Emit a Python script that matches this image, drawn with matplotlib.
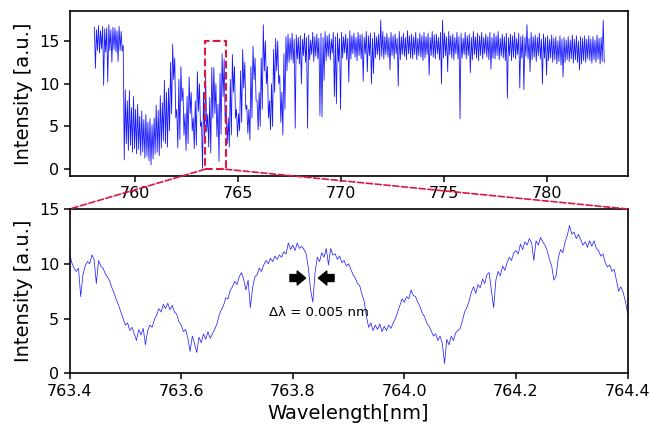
import numpy as np
import matplotlib
matplotlib.use("Agg")
import matplotlib.pyplot as plt
from matplotlib.patches import Rectangle, ConnectionPatch

# ---------------- data: overview spectrum (column max / min, 0.1 nm columns) --------
top_start = 758.05
top_step = 0.1
top_hi = [
    16.6, 16.3, 16.8, 16.2, 16.7, 16.4, 16.5, 16.9, 16.3, 16.6,   # 758
    16.5, 16.2, 16.7, 16.1, 14.5, 9.3, 8.0, 9.2, 7.2, 8.5,         # 759
    7.0, 7.6, 6.2, 6.8, 5.8, 6.4, 5.5, 5.9, 5.2, 6.0,              # 760
    7.5, 6.9, 8.6, 7.8, 10.4, 9.0, 9.5, 12.5, 14.6, 13.0,          # 761
    7.0, 10.5, 12.0, 9.5, 6.5, 8.5, 10.8, 9.0, 6.0, 8.0,           # 762
    11.4, 10.0, 5.5, 9.0, 11.0, 6.4, 8.4, 11.9, 11.9, 10.0,        # 763
    7.6, 11.2, 13.5, 12.9, 7.0, 6.0, 10.5, 13.4, 12.0, 7.0,        # 764
    6.5, 11.5, 14.0, 12.5, 7.5, 7.0, 12.0, 14.4, 13.0, 8.0,        # 765
    9.0, 13.0, 16.9, 15.0, 12.0, 8.0, 10.0, 14.0, 15.3, 15.0,      # 766
    11.0, 9.0, 13.5, 15.5, 15.8, 15.3, 15.9, 15.2, 15.7, 15.4,     # 767
    15.6, 15.2, 15.9, 15.4, 15.7, 15.1, 16.0, 15.5, 15.8, 15.3,    # 768
    15.9, 15.4, 16.1, 15.6, 15.8, 15.2, 16.0, 15.5, 15.9, 15.3,    # 769
    16.0, 15.5, 15.8, 15.3, 16.2, 15.6, 15.9, 15.4, 16.0, 15.7,    # 770
    15.8, 15.4, 16.1, 15.6, 15.9, 15.3, 16.0, 15.5, 15.8, 15.4,    # 771
    16.1, 15.5, 15.9, 15.4, 16.0, 15.6, 15.8, 15.3, 16.1, 15.5,    # 772
    15.9, 15.4, 16.2, 15.6, 15.8, 15.5, 16.0, 15.3, 15.9, 15.6,    # 773
    16.0, 15.5, 15.9, 15.4, 16.1, 15.7, 15.8, 15.4, 16.0, 15.6,    # 774
    15.9, 15.5, 16.1, 15.6, 15.8, 15.4, 16.0, 15.5, 15.9, 15.3,    # 775
    16.0, 15.6, 15.8, 15.4, 16.1, 15.5, 15.9, 15.6, 16.0, 15.4,    # 776
    15.8, 15.5, 16.0, 15.4, 15.9, 15.6, 16.1, 15.3, 15.8, 15.5,    # 777
    15.9, 15.4, 15.8, 15.6, 16.0, 15.3, 15.9, 15.5, 15.7, 15.4,    # 778
    15.8, 15.3, 16.0, 15.5, 15.7, 15.4, 15.9, 15.2, 15.8, 15.4,    # 779
    15.6, 15.2, 15.7, 15.3, 15.5, 15.0, 15.6, 15.2, 15.4, 15.1,    # 780
    15.5, 15.1, 15.7, 15.2, 15.6, 15.0, 15.5, 15.3, 15.6, 15.2,    # 781
    15.6, 15.2, 15.5, 15.1, 15.7, 15.3, 15.4, 15.6,                # 782
]
top_lo = [
    11.8, 13.9, 13.6, 14.1, 9.8, 13.7, 10.2, 13.9, 12.5, 14.0,     # 758
    13.7, 12.6, 13.9, 13.8, 1.1, 3.0, 2.2, 2.8, 2.0, 2.4,          # 759
    1.8, 2.3, 1.6, 2.0, 1.3, 1.5, 1.0, 0.5, 1.2, 1.8,              # 760
    2.0, 1.6, 2.5, 3.3, 3.0, 2.6, 4.5, 6.5, 10.5, 6.0,             # 761
    2.5, 3.5, 8.0, 4.0, 2.2, 3.0, 6.5, 4.5, 2.4, 2.8,              # 762
    6.8, 5.0, 0.1, 3.2, 4.4, 2.6, 1.9, 6.0, 6.5, 3.8,              # 763
    0.9, 4.1, 8.5, 5.5, 3.0, 2.6, 4.0, 9.0, 6.0, 3.8,              # 764
    4.5, 5.5, 9.5, 7.0, 4.2, 3.4, 6.0, 10.5, 8.0, 4.6,             # 765
    5.0, 7.0, 11.5, 10.0, 6.0, 4.6, 5.0, 9.0, 11.5, 10.0,          # 766
    5.5, 4.0, 7.0, 11.5, 12.5, 12.8, 12.4, 4.8, 12.9, 12.3,        # 767
    12.7, 13.3, 12.5, 13.1, 12.8, 13.4, 12.6, 13.2, 12.9, 13.5,    # 768
    12.9, 13.5, 12.7, 13.2, 12.8, 13.6, 12.9, 13.3, 12.6, 13.4,    # 769
    13.0, 13.6, 12.8, 13.4, 12.9, 13.5, 13.1, 12.7, 13.3, 12.9,    # 770
    13.1, 13.5, 12.8, 13.3, 12.9, 13.6, 13.0, 13.4, 12.8, 13.2,    # 771
    12.9, 13.4, 13.1, 12.7, 13.3, 12.9, 13.5, 13.0, 12.8, 13.4,    # 772
    13.2, 12.8, 13.5, 13.0, 12.9, 13.4, 12.8, 13.3, 13.1, 12.7,    # 773
    13.0, 13.4, 12.8, 13.3, 13.1, 12.9, 13.5, 12.8, 13.2, 13.0,    # 774
    13.3, 12.9, 13.4, 13.0, 12.8, 13.5, 12.9, 13.2, 13.0, 13.4,    # 775
    12.9, 13.3, 13.1, 12.8, 13.4, 13.0, 12.7, 13.3, 12.9, 13.5,    # 776
    13.1, 12.8, 13.4, 13.0, 12.9, 13.3, 12.8, 13.2, 13.0, 12.7,    # 777
    13.0, 13.3, 12.7, 13.1, 12.9, 13.4, 12.8, 13.0, 12.6, 13.2,    # 778
    12.9, 13.2, 12.8, 13.1, 12.6, 13.3, 12.9, 12.7, 13.0, 12.8,    # 779
    12.7, 13.0, 12.5, 12.8, 12.3, 12.6, 12.2, 12.9, 12.5, 12.8,    # 780
    12.6, 12.9, 12.4, 12.8, 12.5, 13.0, 12.3, 12.7, 12.5, 12.9,    # 781
    12.7, 12.4, 12.8, 12.5, 12.9, 12.3, 12.6, 12.5,                # 782
]
# narrow absorption lines in the continuum (wavelength, minimum intensity)
line_wl = [768.05, 768.38, 768.98, 769.06, 769.17, 769.63, 769.74, 769.95,
           770.34, 771.08, 771.21, 771.46, 771.57, 772.34, 772.78, 774.30,
           774.84, 775.13, 775.74, 776.23, 777.21, 778.07, 778.69, 778.88,
           779.10, 779.76, 779.98, 780.79, 781.52]
line_min = [10.0, 4.8, 6.3, 6.1, 10.4, 8.5, 7.7, 7.0,
            10.2, 10.3, 11.4, 10.0, 11.2, 11.6, 9.7, 11.0,
            10.0, 11.4, 5.9, 11.3, 11.7, 8.3, 9.5, 9.3,
            11.4, 10.0, 11.0, 10.8, 11.6]
# isolated upward spikes (wavelength, maximum intensity)
spike_wl = [771.93, 774.97, 779.01, 782.72]
spike_max = [17.4, 17.4, 16.9, 17.4]

# ---------------- data: zoomed spectrum 763.4 - 764.4 nm --------------------------
zoom_start = 763.4
zoom_end = 764.4
zoom_I = [
    11.0, 10.1, 9.6, 9.3, 9.6, 7.0, 9.0, 9.8, 10.2, 10.0,
    10.8, 10.4, 8.2, 10.3, 9.8, 9.6, 9.1, 8.8, 8.4, 7.8,
    7.3, 6.7, 6.2, 5.6, 5.0, 4.4, 4.6, 3.9, 4.2, 3.6,
    3.0, 4.0, 3.5, 4.1, 2.6, 3.9, 4.4, 4.2, 4.9, 5.3,
    5.9, 5.6, 6.3, 5.9, 6.4, 5.8, 6.2, 5.6, 5.4, 4.7,
    4.4, 3.8, 4.0, 3.2, 2.0, 3.4, 2.7, 1.9, 3.3, 2.8,
    3.6, 3.1, 3.8, 3.2, 3.6, 4.0, 4.5, 5.3, 5.8, 6.2,
    6.9, 6.8, 7.6, 7.9, 8.4, 8.1, 8.8, 9.2, 8.6, 7.6,
    8.5, 6.0, 7.8, 8.8, 9.0, 9.6, 9.3, 9.9, 10.3, 10.0,
    10.5, 10.2, 10.7, 10.4, 10.8, 10.6, 11.1, 10.9, 11.9, 11.3,
    11.7, 11.2, 11.9, 11.4, 11.6, 11.3, 10.9, 9.6, 7.6, 6.5,
    9.2, 10.6, 10.2, 11.0, 10.6, 11.4, 9.9, 11.4, 10.8, 10.9,
    10.4, 10.7, 10.1, 10.3, 9.8, 10.0, 9.5, 9.0, 8.7, 8.2,
    8.0, 7.2, 6.6, 5.2, 4.2, 4.6, 3.9, 4.4, 4.0, 4.5,
    3.8, 4.3, 3.9, 4.4, 4.1, 4.6, 5.0, 5.6, 6.2, 6.8,
    6.5, 7.0, 6.8, 7.6, 7.1, 7.0, 6.5, 6.1, 5.5, 5.2,
    4.6, 4.3, 3.9, 3.4, 3.6, 3.0, 3.4, 2.7, 0.9, 3.1,
    2.6, 3.4, 3.0, 3.7, 3.9, 4.1, 4.8, 5.6, 6.0, 6.6,
    7.4, 7.9, 7.3, 8.1, 7.8, 8.6, 8.2, 9.0, 9.2, 7.5,
    6.0, 8.5, 9.3, 8.9, 9.8, 9.4, 10.1, 10.6, 10.3, 11.0,
    11.2, 10.9, 11.8, 11.3, 12.0, 11.7, 12.3, 11.9, 10.3, 12.1,
    11.7, 12.4, 12.0, 11.7, 11.2, 10.4, 9.8, 8.5, 8.9, 10.6,
    11.3, 11.0, 12.0, 12.6, 13.5, 12.7, 12.9, 12.3, 12.7, 12.2,
    11.7, 12.0, 11.5, 12.1, 11.6, 12.1, 11.4, 11.2, 10.7, 10.9,
    10.1, 9.7, 9.9, 9.3, 9.5, 8.5, 7.5, 7.9, 7.4, 6.6,
    5.5,
]

top_xticks = [760, 765, 770, 775, 780]
zoom_xticks = [763.4, 763.6, 763.8, 764.0, 764.2, 764.4]
yticks = [0, 5, 10, 15]
annotation = "\u0394\u03bb = 0.005 nm"

# ---------------- build the overview line ----------------------------------------
hi = list(top_hi)
lo = list(top_lo)
for w, v in zip(line_wl, line_min):
    j = int(round((w - top_start) / top_step))
    lo[j] = min(lo[j], v)
for w, v in zip(spike_wl, spike_max):
    j = int(round((w - top_start) / top_step))
    hi[j] = max(hi[j], v)
tx, ty = [], []
for j, (h, l) in enumerate(zip(hi, lo)):
    c = top_start + top_step * j
    tx += [c - top_step / 4, c + top_step / 4]
    ty += [h, l]

zx = np.linspace(zoom_start, zoom_end, len(zoom_I))

# ---------------- figure ----------------------------------------------------------
plt.rcParams['font.family'] = ['DejaVu Sans']
fig = plt.figure(figsize=(6.5, 4.26), dpi=100)
ax1 = fig.add_axes([0.107, 0.5876, 0.8592, 0.3866])
ax2 = fig.add_axes([0.107, 0.1237, 0.8585, 0.3857])

red = '#e0163f'

ax1.plot(tx, ty, color='#0000ff', lw=0.6, alpha=0.9)
ax1.set_xlim(756.82, 783.93)
ax1.set_ylim(-0.75, 18.5)
ax1.set_xticks(top_xticks)
ax1.set_yticks(yticks)
ax1.set_ylabel('Intensity [a.u.]', fontsize=14)
ax1.add_patch(Rectangle((zoom_start, 0), zoom_end - zoom_start, 15, fill=False,
                        edgecolor=red, lw=1.5, ls='--', zorder=5))

ax2.plot(zx, zoom_I, color='#0000ff', lw=0.55, alpha=0.85)
ax2.set_xlim(zoom_start, zoom_end)
ax2.set_ylim(0, 15)
ax2.set_xticks(zoom_xticks)
ax2.set_xticklabels([f"{t:.1f}" for t in zoom_xticks])
ax2.set_yticks(yticks)
ax2.set_ylabel('Intensity [a.u.]', fontsize=14)
ax2.set_xlabel('Wavelength[nm]', fontsize=14)

for ax in (ax1, ax2):
    ax.tick_params(labelsize=11.5, width=1.1, length=4)
    for s in ax.spines.values():
        s.set_linewidth(1.2)

for xv in (zoom_start, zoom_end):
    con = ConnectionPatch(xyA=(xv, 0), coordsA=ax1.transData,
                          xyB=(xv, 15), coordsB=ax2.transData,
                          color=red, lw=1.2, ls='--')
    fig.add_artist(con)

arrow = dict(facecolor='black', edgecolor='black', width=5, headwidth=10,
             headlength=6, shrink=0)
ax2.annotate('', xy=(763.823, 8.7), xytext=(763.795, 8.7), arrowprops=arrow)
ax2.annotate('', xy=(763.846, 8.7), xytext=(763.874, 8.7), arrowprops=arrow)
ax2.text(763.757, 5.2, annotation, fontsize=9.5, color='black', va='baseline')

fig.savefig('out.png', dpi=100)
